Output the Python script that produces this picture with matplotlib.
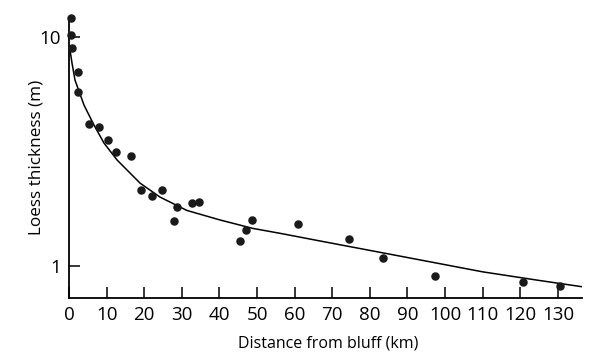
import numpy as np
import matplotlib
matplotlib.use("Agg")
import matplotlib.pyplot as plt
from matplotlib.ticker import FixedLocator, NullLocator, FixedFormatter

plt.rcParams['font.family'] = ['Open Sans', 'DejaVu Sans']

# measured thickness (m) vs distance from bluff (km)
distance = [0.5, 0.5, 0.7, 2.3, 2.3, 5.3, 8.0, 10.5, 12.6, 16.4,
            19.2, 22.0, 24.7, 28.8, 27.9, 32.7, 34.6, 45.5, 47.0, 48.6,
            61.0, 74.4, 83.5, 97.3, 120.6, 130.5]
thickness = [12.1, 10.2, 8.9, 7.0, 5.75, 4.15, 4.05, 3.55, 3.16, 3.02,
             2.15, 2.03, 2.14, 1.81, 1.57, 1.88, 1.90, 1.285, 1.435, 1.59,
             1.52, 1.31, 1.08, 0.907, 0.854, 0.816]

# fitted trend line
curve_x = [0.27, 0.8, 1.6, 4.0, 6.65, 9.3, 12.8, 18.9, 24.2, 31.3,
           40.1, 48.9, 56.1, 67.5, 81.9, 96.0, 110.0, 124.4, 136.4]
curve_y = [8.75, 7.68, 6.47, 5.03, 4.12, 3.44, 2.90, 2.30, 2.00, 1.75,
           1.59, 1.46, 1.39, 1.28, 1.155, 1.044, 0.944, 0.869, 0.813]

xticks = list(range(0, 131, 10))

fig = plt.figure(figsize=(6, 3.58), dpi=100)
ax = fig.add_axes([0.115, 0.1676, 0.855, 0.785])

ax.plot(curve_x, curve_y, color='black', lw=1.1)
ax.scatter(distance, thickness, s=26, color='#1a1a1a', zorder=3, clip_on=False)

ax.set_yscale('log')
ax.set_xlim(0, 136.4)
ax.set_ylim(0.726, 12.2)
ax.yaxis.set_major_locator(FixedLocator([1, 10]))
ax.yaxis.set_major_formatter(FixedFormatter(['1', '10']))
ax.yaxis.set_minor_locator(NullLocator())
ax.set_xticks(xticks)

ax.spines['top'].set_visible(False)
ax.spines['right'].set_visible(False)
for s in ('left', 'bottom'):
    ax.spines[s].set_linewidth(1.3)
ax.tick_params(axis='both', direction='in', length=8, width=1.1,
               labelsize=13.5)
ax.tick_params(axis='x', pad=6)
ax.tick_params(axis='y', pad=6)

ax.set_xlabel('Distance from bluff (km)', fontsize=11.5)
ax.xaxis.set_label_coords(0.505, -0.135)
ax.set_ylabel('Loess thickness (m)', fontsize=12.3)
ax.yaxis.set_label_coords(-0.047, 0.5)

fig.savefig('out.png', dpi=100)
